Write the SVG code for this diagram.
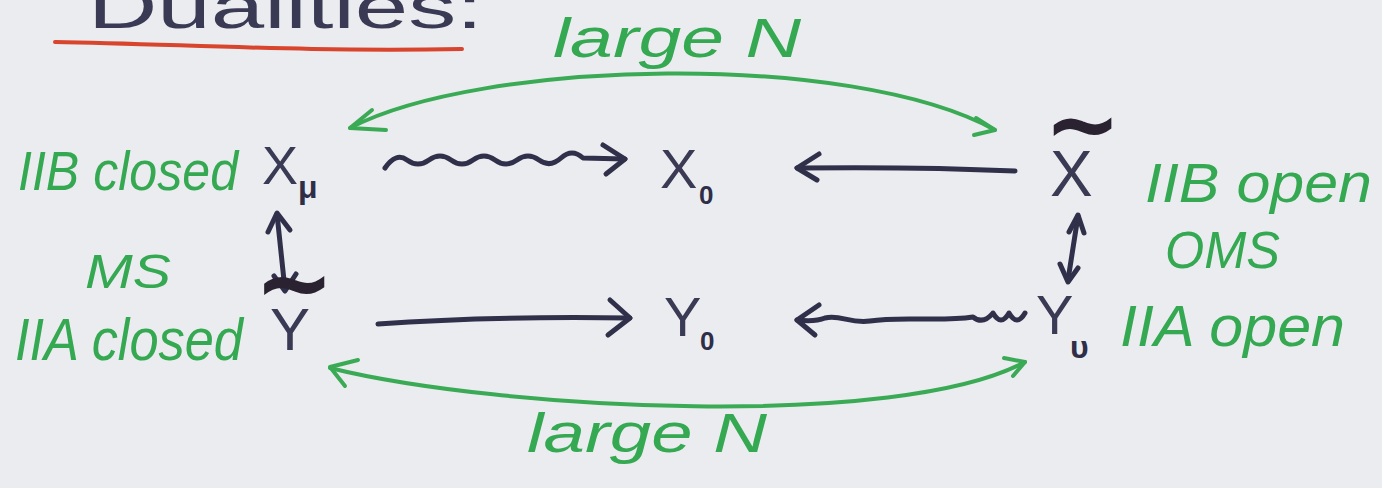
<svg xmlns="http://www.w3.org/2000/svg" width="1382" height="488" viewBox="0 0 1382 488">
  <defs>
    <style>
      .ink { fill: none; stroke: #30304a; stroke-width: 5; stroke-linecap: round; stroke-linejoin: round; }
      .green { fill: none; stroke: #3aaa55; stroke-width: 4; stroke-linecap: round; stroke-linejoin: round; }
      .gtext { fill: #35a852; font-family: "Liberation Sans", "DejaVu Sans", sans-serif; font-style: italic; }
      .btext { fill: #3a3a55; font-family: "Liberation Sans", "DejaVu Sans", sans-serif; }
      .sub { fill: #2e2e48; font-family: "Liberation Sans", "DejaVu Sans", sans-serif; font-weight: bold; }
      .tilde { fill: #2a2230; font-family: "DejaVu Sans", sans-serif; font-weight: bold; }
    </style>
  </defs>

  <rect width="1382" height="488" fill="#eaecf0"/>

  <!-- heading, underlined in red -->
  <g id="title">
    <text x="88" y="28" class="btext" font-size="62" textLength="395" lengthAdjust="spacingAndGlyphs" fill="#2e2e48">Dualities:</text>
    <path d="M55 42 C 180 44, 300 52, 462 49" fill="none" stroke="#d8442c" stroke-width="4" stroke-linecap="round"/>
  </g>

  <!-- connectors -->
  <g id="connectors">
    <!-- large N, top -->
    <path class="green" d="M350 128 C 480 60, 850 50, 995 130"/>
    <path class="green" d="M372 110 L350 128 L386 130"/>
    <path class="green" d="M976 118 L995 130 L974 135"/>
    <!-- large N, bottom -->
    <path class="green" d="M330 368 C 500 410, 900 430, 1025 362"/>
    <path class="green" d="M358 360 L330 367 L345 386"/>
    <path class="green" d="M1004 358 L1025 362 L1013 376"/>

    <!-- X_mu ~> X_0 -->
    <path class="ink" d="M385 168 q 11 -16 22 -8 t 22 0 t 22 0 t 22 0 t 22 0 t 22 0 t 22 0 t 22 -2 t 22 0 L625 159"/>
    <path class="ink" d="M603 145 L625 159 L606 174"/>
    <!-- X~ -> X_0 -->
    <path class="ink" d="M1015 171 C 950 168, 880 167, 797 168"/>
    <path class="ink" d="M819 154 L797 168 L817 180"/>
    <!-- Y~ -> Y_0 -->
    <path class="ink" d="M378 324 C 460 318, 560 317, 630 318"/>
    <path class="ink" d="M610 300 L630 318 L608 335"/>
    <!-- Y_v ~> Y_0 -->
    <path class="ink" d="M1025 313 q -8 14 -16 0 q -8 14 -16 0 q -10 12 -20 4 C 940 322, 900 316, 870 321 C 850 324, 840 314, 825 318 q -10 4 -28 2"/>
    <path class="ink" d="M819 305 L797 320 L815 335"/>

    <!-- X_mu <-> Y~ -->
    <path class="ink" d="M277 214 L285 290"/>
    <path class="ink" d="M268 232 L277 213 L290 230"/>
    <path class="ink" d="M274 276 L285 291 L296 274"/>
    <!-- X~ <-> Y_v -->
    <path class="ink" d="M1078 216 L1068 280"/>
    <path class="ink" d="M1069 232 L1078 215 L1084 233"/>
    <path class="ink" d="M1060 264 L1068 282 L1078 268"/>
  </g>

  <!-- green labels -->
  <g id="label-top">
    <text x="553" y="57" class="gtext" font-size="56" textLength="248" lengthAdjust="spacingAndGlyphs">large N</text>
  </g>
  <g id="label-bottom">
    <text x="527" y="452" class="gtext" font-size="56" textLength="240" lengthAdjust="spacingAndGlyphs">large N</text>
  </g>
  <g id="label-iib-closed">
    <text x="18" y="190" class="gtext" font-size="56" textLength="220" lengthAdjust="spacingAndGlyphs">IIB closed</text>
  </g>
  <g id="label-ms">
    <text x="85" y="288" class="gtext" font-size="48" textLength="86" lengthAdjust="spacingAndGlyphs">MS</text>
  </g>
  <g id="label-iia-closed">
    <text x="15" y="360" class="gtext" font-size="60" textLength="228" lengthAdjust="spacingAndGlyphs">IIA closed</text>
  </g>
  <g id="label-iib-open">
    <text x="1145" y="202" class="gtext" font-size="56" textLength="227" lengthAdjust="spacingAndGlyphs">IIB open</text>
  </g>
  <g id="label-oms">
    <text x="1165" y="268" class="gtext" font-size="52" textLength="115" lengthAdjust="spacingAndGlyphs">OMS</text>
  </g>
  <g id="label-iia-open">
    <text x="1120" y="346" class="gtext" font-size="58" textLength="225" lengthAdjust="spacingAndGlyphs">IIA open</text>
  </g>

  <!-- spaces -->
  <g id="node-x-mu">
    <text x="262" y="184" class="btext" font-size="54">X</text>
    <text x="298" y="198" class="sub" font-size="32">μ</text>
  </g>
  <g id="node-x0">
    <text x="660" y="188" class="btext" font-size="56">X</text>
    <text x="699" y="204" class="sub" font-size="26">0</text>
  </g>
  <g id="node-x-tilde">
    <text x="1044" y="156" class="tilde" font-size="92">~</text>
    <text x="1050" y="196" class="btext" font-size="64">X</text>
  </g>
  <g id="node-y-tilde">
    <text x="254" y="316" class="tilde" font-size="96">~</text>
    <text x="270" y="350" class="btext" font-size="60">Y</text>
  </g>
  <g id="node-y0">
    <text x="664" y="336" class="btext" font-size="56">Y</text>
    <text x="700" y="350" class="sub" font-size="26">0</text>
  </g>
  <g id="node-y-v">
    <text x="1036" y="334" class="btext" font-size="56">Y</text>
    <text x="1070" y="358" class="sub" font-size="32">υ</text>
  </g>
</svg>
